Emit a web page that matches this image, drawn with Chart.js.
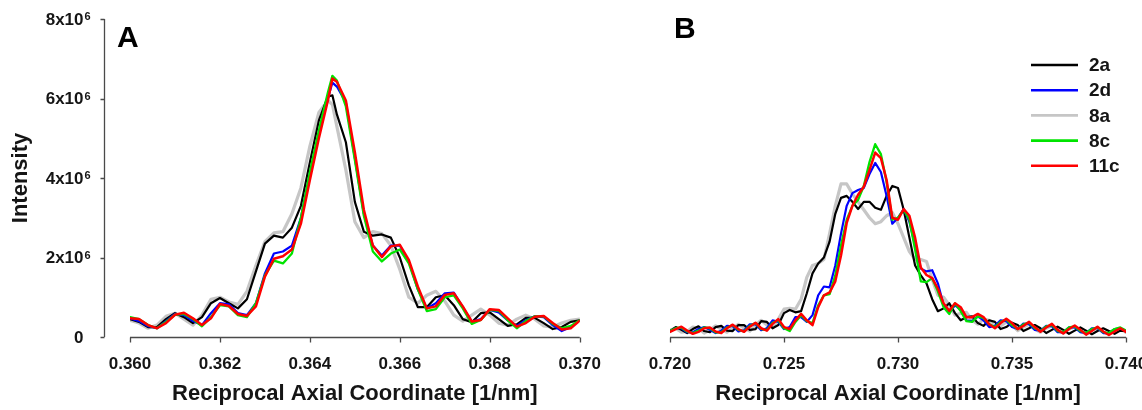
<!DOCTYPE html>
<html>
<head>
<meta charset="utf-8">
<title>Axial intensity profiles</title>
<script src="https://cdn.jsdelivr.net/npm/chart.js@4.4.1/dist/chart.umd.min.js"></script>
<style>
  html, body { margin: 0; padding: 0; width: 1142px; height: 410px; overflow: hidden; background: #ffffff; }
  .panel { position: absolute; top: 0; height: 410px; }
  #panelA { left: 0; width: 610px; }
  #panelB { left: 600px; width: 560px; }
</style>
</head>
<body>
<div class="panel" id="panelA"><canvas id="chartA"></canvas></div>
<div class="panel" id="panelB"><canvas id="chartB"></canvas></div>
<script>
// ---- series names and styling order ----
const seriesNames = ['2a', '2d', '8a', '8c', '11c'];

// ---- axis ticks ----
const xTickValuesA = [0.360, 0.362, 0.364, 0.366, 0.368, 0.370];
const xTickLabelsA = ['0.360', '0.362', '0.364', '0.366', '0.368', '0.370'];
const xTickValuesB = [0.720, 0.725, 0.730, 0.735, 0.740];
const xTickLabelsB = ['0.720', '0.725', '0.730', '0.735', '0.740'];
const yTickValues = [0, 2e6, 4e6, 6e6, 8e6];
const yTickBase = ['0', '2x10', '4x10', '6x10', '8x10'];
const yTickExp = ['', '6', '6', '6', '6'];

// intensities below are given in units of 10^6
const UNIT = 1e6;

// ---- panel A: first-order reflection ----
const xA = [0.3600,0.3602,0.3604,0.3606,0.3608,0.3610,0.3612,0.3614,0.3616,0.3618,
            0.3620,0.3622,0.3624,0.3626,0.3628,0.3630,0.3632,0.3634,0.3636,0.3638,
            0.3640,0.3642,0.3644,0.3645,0.3646,0.3648,0.3650,0.3652,0.3654,0.3656,
            0.3658,0.3660,0.3662,0.3664,0.3666,0.3668,0.3670,0.3672,0.3674,0.3676,
            0.3678,0.3680,0.3682,0.3684,0.3686,0.3688,0.3690,0.3692,0.3694,0.3696,
            0.3698,0.3700];
const a_2a  = [0.45,0.38,0.25,0.25,0.45,0.60,0.50,0.35,0.50,0.85,
               0.98,0.85,0.72,0.95,1.65,2.35,2.55,2.50,2.75,3.30,
               4.40,5.45,6.05,6.08,5.60,4.90,3.40,2.65,2.55,2.58,
               2.50,2.00,1.30,0.75,0.75,1.00,1.05,0.80,0.45,0.37,
               0.60,0.62,0.45,0.28,0.32,0.48,0.48,0.35,0.20,0.25,
               0.38,0.42];
const a_2d  = [0.47,0.40,0.27,0.22,0.40,0.58,0.55,0.40,0.30,0.60,
               0.85,0.82,0.60,0.55,0.85,1.60,2.10,2.15,2.30,3.00,
               4.10,5.10,6.00,6.40,6.30,5.90,4.50,3.10,2.30,2.05,
               2.30,2.30,1.90,1.20,0.72,0.85,1.10,1.12,0.75,0.38,
               0.45,0.68,0.62,0.42,0.28,0.42,0.52,0.50,0.30,0.15,
               0.25,0.42];
const a_8a  = [0.42,0.35,0.22,0.30,0.52,0.60,0.45,0.30,0.55,0.95,
               1.00,0.88,0.82,1.15,1.80,2.40,2.62,2.65,3.10,3.75,
               4.80,5.65,5.95,5.85,5.30,4.20,2.90,2.50,2.65,2.60,
               2.30,1.70,1.00,0.85,1.05,1.15,0.90,0.55,0.40,0.55,
               0.70,0.55,0.35,0.30,0.45,0.55,0.45,0.28,0.25,0.35,
               0.42,0.45];
const a_8c  = [0.50,0.45,0.30,0.22,0.38,0.56,0.58,0.45,0.27,0.50,
               0.80,0.77,0.55,0.50,0.85,1.55,1.92,1.85,2.10,3.00,
               4.15,5.20,6.15,6.57,6.45,5.80,4.45,3.05,2.15,1.90,
               2.10,2.20,1.85,1.20,0.65,0.70,1.00,1.05,0.72,0.33,
               0.43,0.68,0.66,0.42,0.22,0.40,0.52,0.52,0.33,0.22,
               0.28,0.42];
const a_11c = [0.47,0.45,0.30,0.22,0.35,0.56,0.61,0.47,0.30,0.47,
               0.83,0.78,0.58,0.53,0.77,1.52,1.97,2.03,2.20,2.85,
               3.95,5.00,5.95,6.50,6.42,5.95,4.65,3.20,2.30,2.01,
               2.28,2.32,1.94,1.27,0.72,0.77,1.06,1.10,0.77,0.39,
               0.43,0.70,0.68,0.47,0.26,0.35,0.51,0.53,0.35,0.19,
               0.22,0.41];

// ---- panel B: second-order reflection ----
const xB = [0.72000,0.72025,0.72050,0.72075,0.72100,0.72125,0.72150,0.72175,0.72200,0.72225,
            0.72250,0.72275,0.72300,0.72325,0.72350,0.72375,0.72400,0.72425,0.72450,0.72475,
            0.72500,0.72525,0.72550,0.72575,0.72600,0.72625,0.72650,0.72675,0.72700,0.72725,
            0.72750,0.72775,0.72800,0.72825,0.72850,0.72875,0.72900,0.72925,0.72950,0.72975,
            0.73000,0.73025,0.73050,0.73075,0.73100,0.73125,0.73150,0.73175,0.73200,0.73225,
            0.73250,0.73275,0.73300,0.73325,0.73350,0.73375,0.73400,0.73425,0.73450,0.73475,
            0.73500,0.73525,0.73550,0.73575,0.73600,0.73625,0.73650,0.73675,0.73700,0.73725,
            0.73750,0.73775,0.73800,0.73825,0.73850,0.73875,0.73900,0.73925,0.73950,0.73975,
            0.74000];
const b_2a  = [0.15,0.25,0.18,0.10,0.20,0.27,0.15,0.12,0.25,0.28,
               0.16,0.15,0.30,0.30,0.18,0.20,0.40,0.38,0.22,0.30,
               0.60,0.68,0.62,0.65,1.10,1.60,1.85,2.00,2.40,3.10,
               3.50,3.55,3.40,3.22,3.40,3.40,3.25,3.20,3.55,3.80,
               3.75,3.20,2.50,1.80,1.55,1.35,0.95,0.65,0.72,0.85,
               0.60,0.42,0.50,0.52,0.35,0.28,0.42,0.38,0.20,0.25,
               0.36,0.30,0.15,0.22,0.30,0.22,0.10,0.18,0.26,0.18,
               0.08,0.16,0.24,0.16,0.07,0.15,0.22,0.15,0.08,0.16,
               0.15];
const b_2d  = [0.14,0.22,0.22,0.12,0.12,0.20,0.25,0.18,0.10,0.16,
               0.28,0.27,0.14,0.17,0.32,0.32,0.17,0.22,0.42,0.38,
               0.20,0.25,0.50,0.50,0.38,0.55,1.05,1.27,1.25,1.80,
               2.60,3.30,3.62,3.70,3.75,4.10,4.38,4.15,3.55,2.85,
               3.00,3.22,2.90,2.30,1.72,1.65,1.68,1.35,0.80,0.62,
               0.80,0.68,0.42,0.40,0.52,0.42,0.25,0.28,0.42,0.40,
               0.25,0.20,0.34,0.32,0.18,0.16,0.28,0.27,0.12,0.12,
               0.24,0.24,0.12,0.10,0.22,0.22,0.10,0.10,0.20,0.22,
               0.15];
const b_8a  = [0.17,0.22,0.12,0.14,0.25,0.22,0.10,0.18,0.28,0.20,
               0.12,0.22,0.32,0.22,0.15,0.30,0.42,0.30,0.25,0.45,
               0.70,0.72,0.70,0.95,1.50,1.80,1.85,1.95,2.60,3.30,
               3.85,3.85,3.60,3.40,3.20,3.00,2.85,2.90,3.05,3.13,
               2.85,2.50,2.15,1.95,1.95,1.90,1.45,1.05,1.00,0.80,
               0.55,0.60,0.62,0.42,0.32,0.45,0.42,0.25,0.28,0.38,
               0.30,0.16,0.25,0.32,0.20,0.12,0.22,0.28,0.16,0.10,
               0.20,0.25,0.14,0.08,0.18,0.22,0.12,0.08,0.18,0.20,
               0.12];
const b_8c  = [0.15,0.22,0.24,0.14,0.10,0.16,0.24,0.22,0.12,0.12,
               0.24,0.30,0.18,0.14,0.28,0.35,0.20,0.18,0.36,0.42,
               0.22,0.15,0.38,0.55,0.40,0.35,0.80,1.05,1.08,1.55,
               2.30,2.95,3.30,3.45,3.80,4.40,4.85,4.60,3.90,2.95,
               3.00,3.20,2.95,2.20,1.40,1.38,1.48,1.15,0.75,0.58,
               0.85,0.65,0.40,0.38,0.52,0.48,0.32,0.25,0.38,0.44,
               0.30,0.20,0.32,0.36,0.22,0.15,0.27,0.30,0.15,0.12,
               0.24,0.27,0.15,0.10,0.20,0.24,0.12,0.10,0.20,0.24,
               0.16];
const b_11c = [0.13,0.20,0.26,0.16,0.08,0.13,0.22,0.24,0.14,0.10,
               0.22,0.31,0.20,0.13,0.26,0.36,0.22,0.16,0.33,0.45,
               0.25,0.20,0.42,0.58,0.42,0.30,0.75,1.05,1.12,1.40,
               2.05,2.87,3.30,3.58,3.78,4.20,4.64,4.50,3.95,3.00,
               2.95,3.22,3.05,2.50,1.75,1.56,1.48,1.22,0.85,0.66,
               0.85,0.75,0.50,0.50,0.58,0.50,0.32,0.22,0.35,0.46,
               0.35,0.20,0.28,0.38,0.25,0.13,0.24,0.33,0.18,0.09,
               0.20,0.29,0.18,0.06,0.15,0.26,0.14,0.05,0.14,0.22,
               0.13];

// ---- styling ----
const FONT = '"Liberation Sans", Arial, Helvetica, sans-serif';
const TEXT = '#151515';
const AXIS = '#4a4a4a';
const seriesColors = ['#000000', '#0000ff', '#c6c6c6', '#00e400', '#ff0000'];
const seriesWidths = [2.2, 2.2, 3.2, 2.3, 2.5];
const seriesOrder  = [3, 2, 4, 1, 0];   // lower value is drawn on top

Chart.defaults.font.family = FONT;

function buildDatasets(xs, columns) {
  return columns.map((vals, k) => ({
    label: seriesNames[k],
    data: vals.map((v, i) => ({ x: xs[i], y: v * UNIT })),
    borderColor: seriesColors[k],
    backgroundColor: seriesColors[k],
    borderWidth: seriesWidths[k],
    order: seriesOrder[k],
    pointRadius: 0,
    tension: 0,
    fill: false,
    borderJoinStyle: 'round',
    borderCapStyle: 'round'
  }));
}

function xScale(min, max, tickValues, tickLabels) {
  return {
    type: 'linear',
    position: 'bottom',
    min: min,
    max: max,
    grid: { display: false },
    border: { display: false },
    afterBuildTicks: (s) => { s.ticks = tickValues.map(v => ({ value: v })); },
    afterFit: (s) => { s.height = 73; },
    ticks: {
      autoSkip: false,
      maxRotation: 0,
      padding: 9,
      color: TEXT,
      font: { size: 17, weight: 'bold', lineHeight: 1.2 },
      callback: (v, i) => tickLabels[i]
    },
    title: {
      display: true,
      text: 'Reciprocal Axial Coordinate [1/nm]',
      color: TEXT,
      font: { size: 22, weight: 'bold', lineHeight: 1 },
      padding: { top: 0, bottom: 5 }
    }
  };
}

// Offset axes, tick labels with exponents, panel letter and legend
const panelDecor = {
  id: 'panelDecor',
  afterDraw(chart, args, opts) {
    const ctx = chart.ctx;
    const area = chart.chartArea;
    const xs = chart.scales.x;
    const ys = chart.scales.y;
    ctx.save();
    ctx.strokeStyle = AXIS;
    ctx.lineWidth = 1.3;

    // x axis line with downward ticks
    const yAxisLine = Math.round(area.bottom) + 0.5;
    ctx.beginPath();
    ctx.moveTo(xs.getPixelForValue(opts.xTicks[0]), yAxisLine);
    ctx.lineTo(xs.getPixelForValue(opts.xTicks[opts.xTicks.length - 1]), yAxisLine);
    opts.xTicks.forEach(v => {
      const px = Math.round(xs.getPixelForValue(v)) + 0.5;
      ctx.moveTo(px, yAxisLine);
      ctx.lineTo(px, yAxisLine + 5);
    });
    ctx.stroke();

    // detached y axis
    if (opts.yAxis) {
      const ax = Math.round(area.left - 26) + 0.5;
      ctx.beginPath();
      ctx.moveTo(ax, ys.getPixelForValue(yTickValues[yTickValues.length - 1]));
      ctx.lineTo(ax, ys.getPixelForValue(yTickValues[0]));
      yTickValues.forEach(v => {
        const py = Math.round(ys.getPixelForValue(v)) + 0.5;
        ctx.moveTo(ax, py);
        ctx.lineTo(ax - 4, py);
      });
      ctx.stroke();

      ctx.fillStyle = TEXT;
      ctx.textBaseline = 'middle';
      const right = ax - 21;
      yTickValues.forEach((v, i) => {
        const py = ys.getPixelForValue(v);
        ctx.font = 'bold 17px ' + FONT;
        ctx.textAlign = 'right';
        ctx.fillText(yTickBase[i], right, py + 1);
        if (yTickExp[i]) {
          ctx.font = 'bold 11px ' + FONT;
          ctx.textAlign = 'left';
          ctx.fillText(yTickExp[i], right + 1, py - 2);
        }
      });
    }

    // panel letter
    ctx.fillStyle = '#000000';
    ctx.font = 'bold 30px ' + FONT;
    ctx.textAlign = 'left';
    ctx.textBaseline = 'alphabetic';
    ctx.fillText(opts.letter, opts.letterX, opts.letterY);

    // legend
    if (opts.legend) {
      const L = opts.legend;
      chart.data.datasets.forEach((ds, i) => {
        const y = L.y + i * L.step;
        ctx.strokeStyle = ds.borderColor;
        ctx.lineWidth = 2.6;
        ctx.beginPath();
        ctx.moveTo(L.x, y);
        ctx.lineTo(L.x + L.len, y);
        ctx.stroke();
        ctx.fillStyle = TEXT;
        ctx.font = 'bold 19px ' + FONT;
        ctx.textBaseline = 'middle';
        ctx.fillText(ds.label, L.x + L.len + 11, y + 1);
      });
    }
    ctx.restore();
  }
};

function baseOptions() {
  return {
    responsive: true,
    maintainAspectRatio: false,
    animation: false,
    events: [],
    plugins: { legend: { display: false }, tooltip: { enabled: false } }
  };
}

// Panel A
const optsA = baseOptions();
optsA.layout = { padding: { left: 0, top: 19, right: 25, bottom: 0 } };
optsA.scales = {
  x: xScale(0.360, 0.370, xTickValuesA, xTickLabelsA),
  y: {
    type: 'linear',
    min: 0,
    max: 8e6,
    grid: { display: false },
    border: { display: false },
    ticks: { display: false },
    afterFit: (s) => { s.width = 130; },
    title: {
      display: true,
      text: 'Intensity',
      color: TEXT,
      font: { size: 22, weight: 'bold', lineHeight: 1 },
      padding: { top: 10, bottom: 0 }
    }
  }
};
optsA.plugins.panelDecor = { letter: 'A', letterX: 117, letterY: 47, yAxis: true, xTicks: xTickValuesA };

new Chart(document.getElementById('chartA'), {
  type: 'line',
  data: { datasets: buildDatasets(xA, [a_2a, a_2d, a_8a, a_8c, a_11c]) },
  options: optsA,
  plugins: [panelDecor]
});

// Panel B
const optsB = baseOptions();
optsB.layout = { padding: { left: 70, top: 19, right: 34, bottom: 0 } };
optsB.scales = {
  x: xScale(0.720, 0.740, xTickValuesB, xTickLabelsB),
  y: { type: 'linear', min: 0, max: 8e6, display: false }
};
optsB.plugins.panelDecor = {
  letter: 'B', letterX: 74, letterY: 38, yAxis: false, xTicks: xTickValuesB,
  legend: { x: 431, y: 65, step: 25.2, len: 47 }
};

new Chart(document.getElementById('chartB'), {
  type: 'line',
  data: { datasets: buildDatasets(xB, [b_2a, b_2d, b_8a, b_8c, b_11c]) },
  options: optsB,
  plugins: [panelDecor]
});
</script>
</body>
</html>
